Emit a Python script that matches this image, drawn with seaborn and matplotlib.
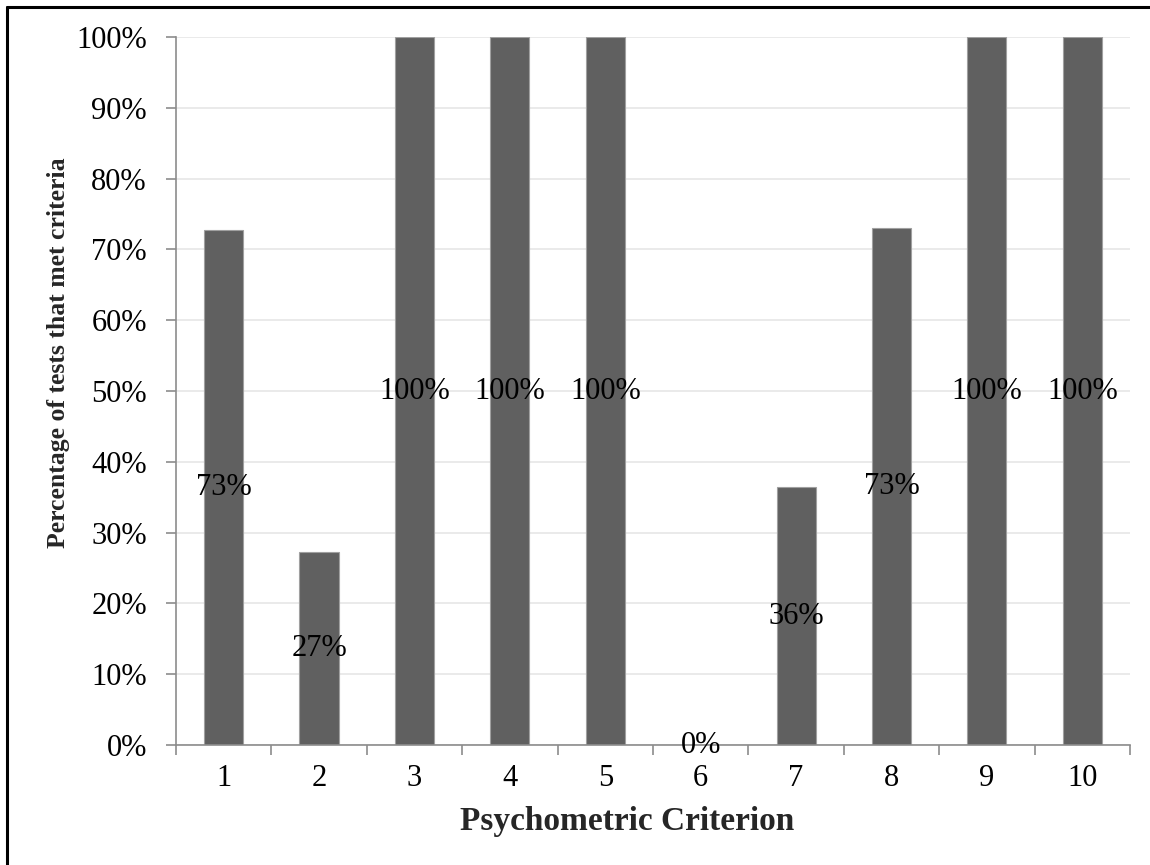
import matplotlib
matplotlib.use("Agg")
import matplotlib.pyplot as plt
import seaborn as sns
import pandas as pd
from matplotlib.lines import Line2D
from matplotlib.ticker import PercentFormatter, FixedLocator

# Chart data
criteria = ["1", "2", "3", "4", "5", "6", "7", "8", "9", "10"]
share_met = [0.727, 0.273, 1.0, 1.0, 1.0, 0.0, 0.364, 0.730, 1.0, 1.0]

df = pd.DataFrame({"criterion": criteria, "share": share_met})

sns.set_theme(style="white")
plt.rcParams["font.family"] = ["Liberation Serif", "DejaVu Serif"]

fig = plt.figure(figsize=(11.5, 8.65), dpi=100)
ax = fig.add_axes([0.153, 0.1387, 0.8296, 0.8185])

sns.barplot(data=df, x="criterion", y="share", color="#606060",
            saturation=1, width=0.41, edgecolor="#a0a0a0", linewidth=0.8, ax=ax)

# bar value labels in the middle of each bar
ax.bar_label(ax.containers[0], labels=[f"{v:.0%}" for v in share_met],
             label_type="center", fontsize=22, color="black")

ax.set_ylim(0, 1)
ax.set_xlim(-0.5, len(criteria) - 0.5)
ax.yaxis.set_major_locator(FixedLocator([i / 10 for i in range(11)]))
ax.yaxis.set_major_formatter(PercentFormatter(1.0, decimals=0))
ax.grid(axis="y", color="#e6e6e6", linewidth=1.2)
ax.set_axisbelow(True)

# ticks between categories like Excel
ax.xaxis.set_minor_locator(FixedLocator([i - 0.5 for i in range(len(criteria) + 1)]))
ax.tick_params(axis="x", which="major", length=0, pad=14, labelsize=22, colors="black")
ax.tick_params(axis="x", which="minor", length=7, width=1.2, color="#8c8c8c", bottom=True)
ax.tick_params(axis="y", length=7, width=1.2, color="#8c8c8c", left=True, pad=14,
               labelsize=22, labelcolor="black")

for side in ["top", "right"]:
    ax.spines[side].set_visible(False)
for side in ["left", "bottom"]:
    ax.spines[side].set_color("#8c8c8c")
    ax.spines[side].set_linewidth(1.2)

ax.set_xlabel("Psychometric Criterion", fontsize=24, fontweight="bold")
ax.set_ylabel("Percentage of tests that met criteria", fontsize=18.5, fontweight="bold")
ax.xaxis.set_label_coords(0.473, -0.108)
ax.xaxis.label.set_va("center")
ax.yaxis.set_label_coords(-0.1226, 0.554)
ax.yaxis.label.set_va("center")

# black frame around the figure (top and left edges visible)
fig.add_artist(Line2D([7 / 1150, 1.0], [1 - 7 / 865, 1 - 7 / 865], color="black",
                      linewidth=2.2, transform=fig.transFigure))
fig.add_artist(Line2D([7 / 1150, 7 / 1150], [0.0, 1 - 7 / 865], color="black",
                      linewidth=2.2, transform=fig.transFigure))

fig.savefig("out.png", dpi=100)
